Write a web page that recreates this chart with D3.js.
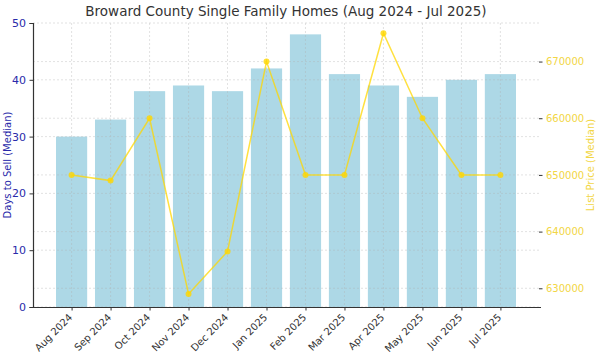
<!DOCTYPE html>
<html><head><meta charset="utf-8">
<script src="https://cdn.jsdelivr.net/npm/d3@7"></script>
<style>body{margin:0;background:#fff}svg{display:block;font-family:"DejaVu Sans",sans-serif}</style>
</head><body><svg id="c" width="601" height="355"></svg>
<script>
const months = ["Aug 2024","Sep 2024","Oct 2024","Nov 2024","Dec 2024","Jan 2025","Feb 2025","Mar 2025","Apr 2025","May 2025","Jun 2025","Jul 2025"];
const daysToSell = [30,33,38,39,38,42,48,41,39,37,40,41];
const listPrice = [650000,649000,660000,629000,636500,670000,650000,650000,675000,660000,650000,650000];
const leftTicks = [0,10,20,30,40,50];
const rightTicks = [630000,640000,650000,660000,670000];

const svg = d3.select("#c");
const L = 33, R = 539, T = 23, B = 307;
const x = d3.scaleLinear().domain([-0.99, months.length - 1 + 0.99]).range([L, R]);
const yL = d3.scaleLinear().domain([0, 50]).range([B, T]);
const yR = d3.scaleLinear().domain([626700, 676800]).range([B, T]);
const bw = x(0.4) - x(-0.4);

// bars
svg.append("g").selectAll("rect").data(daysToSell).join("rect")
  .attr("x", (d,i) => x(i) - bw/2).attr("width", bw)
  .attr("y", d => yL(d)).attr("height", d => B - yL(d))
  .attr("fill", "#add8e6");

// grid
const grid = svg.append("g").attr("stroke", "#b0b0b0").attr("stroke-width", 0.6)
  .attr("stroke-dasharray", "2,2").attr("opacity", 0.6);
months.forEach((m,i) => grid.append("line").attr("x1", x(i)).attr("x2", x(i)).attr("y1", T).attr("y2", B));
leftTicks.forEach(t => grid.append("line").attr("x1", L).attr("x2", R).attr("y1", yL(t)).attr("y2", yL(t)));
rightTicks.forEach(t => grid.append("line").attr("x1", L).attr("x2", R).attr("y1", yR(t)).attr("y2", yR(t)));

// left axis
const axL = svg.append("g").attr("transform", `translate(${L},0)`)
  .call(d3.axisLeft(yL).tickValues(leftTicks).tickSize(3.5).tickPadding(3.5));
axL.select(".domain").attr("stroke", "#333").attr("stroke-width", 1.2);
axL.selectAll(".tick line").attr("stroke", "#333");
axL.selectAll(".tick text").attr("fill", "#2a2aaa").attr("font-size", 11).attr("font-family", "DejaVu Sans");

// right axis
const axR = svg.append("g").attr("transform", `translate(${R},0)`)
  .call(d3.axisRight(yR).tickValues(rightTicks).tickSize(3.5).tickPadding(3.5).tickFormat(d3.format("d")));
axR.select(".domain").remove();
axR.selectAll(".tick line").attr("stroke", "#333");
axR.selectAll(".tick text").attr("fill", "#f2d645").attr("font-size", 10).attr("font-family", "DejaVu Sans");

// bottom axis
const axB = svg.append("g").attr("transform", `translate(0,${B})`)
  .call(d3.axisBottom(x).tickValues(d3.range(months.length)).tickSize(3.5).tickFormat(i => months[i]));
axB.select(".domain").attr("stroke", "#333").attr("stroke-width", 1.2).attr("d", `M${L},0.5H${R+2}`);
axB.selectAll(".tick line").attr("stroke", "#333");
axB.selectAll(".tick text").attr("fill", "#333").attr("font-size", 10).attr("font-family", "DejaVu Sans")
  .attr("text-anchor", "end").attr("dy", null).attr("y", 0)
  .attr("transform", "translate(1,11) rotate(-45)");

// line
const line = d3.line().x((d,i) => x(i)).y(d => yR(d));
svg.append("path").datum(listPrice).attr("d", line).attr("fill", "none")
  .attr("stroke", "#ffd700").attr("stroke-width", 1.5).attr("opacity", 0.75);
svg.append("g").selectAll("circle").data(listPrice).join("circle")
  .attr("cx", (d,i) => x(i)).attr("cy", d => yR(d)).attr("r", 3)
  .attr("fill", "#ffd700").attr("opacity", 0.8);

// labels
svg.append("text").attr("x", (L+R)/2).attr("y", 16).attr("text-anchor", "middle")
  .attr("font-size", 13.5).attr("fill", "#333").text("Broward County Single Family Homes (Aug 2024 - Jul 2025)");
svg.append("text").attr("transform", `translate(11,${(T+B)/2}) rotate(-90)`).attr("text-anchor", "middle")
  .attr("font-size", 10).attr("fill", "#2a2aaa").text("Days to Sell (Median)");
svg.append("text").attr("transform", `translate(594,${(T+B)/2}) rotate(-90)`).attr("text-anchor", "middle")
  .attr("font-size", 10).attr("fill", "#f2d645").text("List Price (Median)");
</script></body></html>
